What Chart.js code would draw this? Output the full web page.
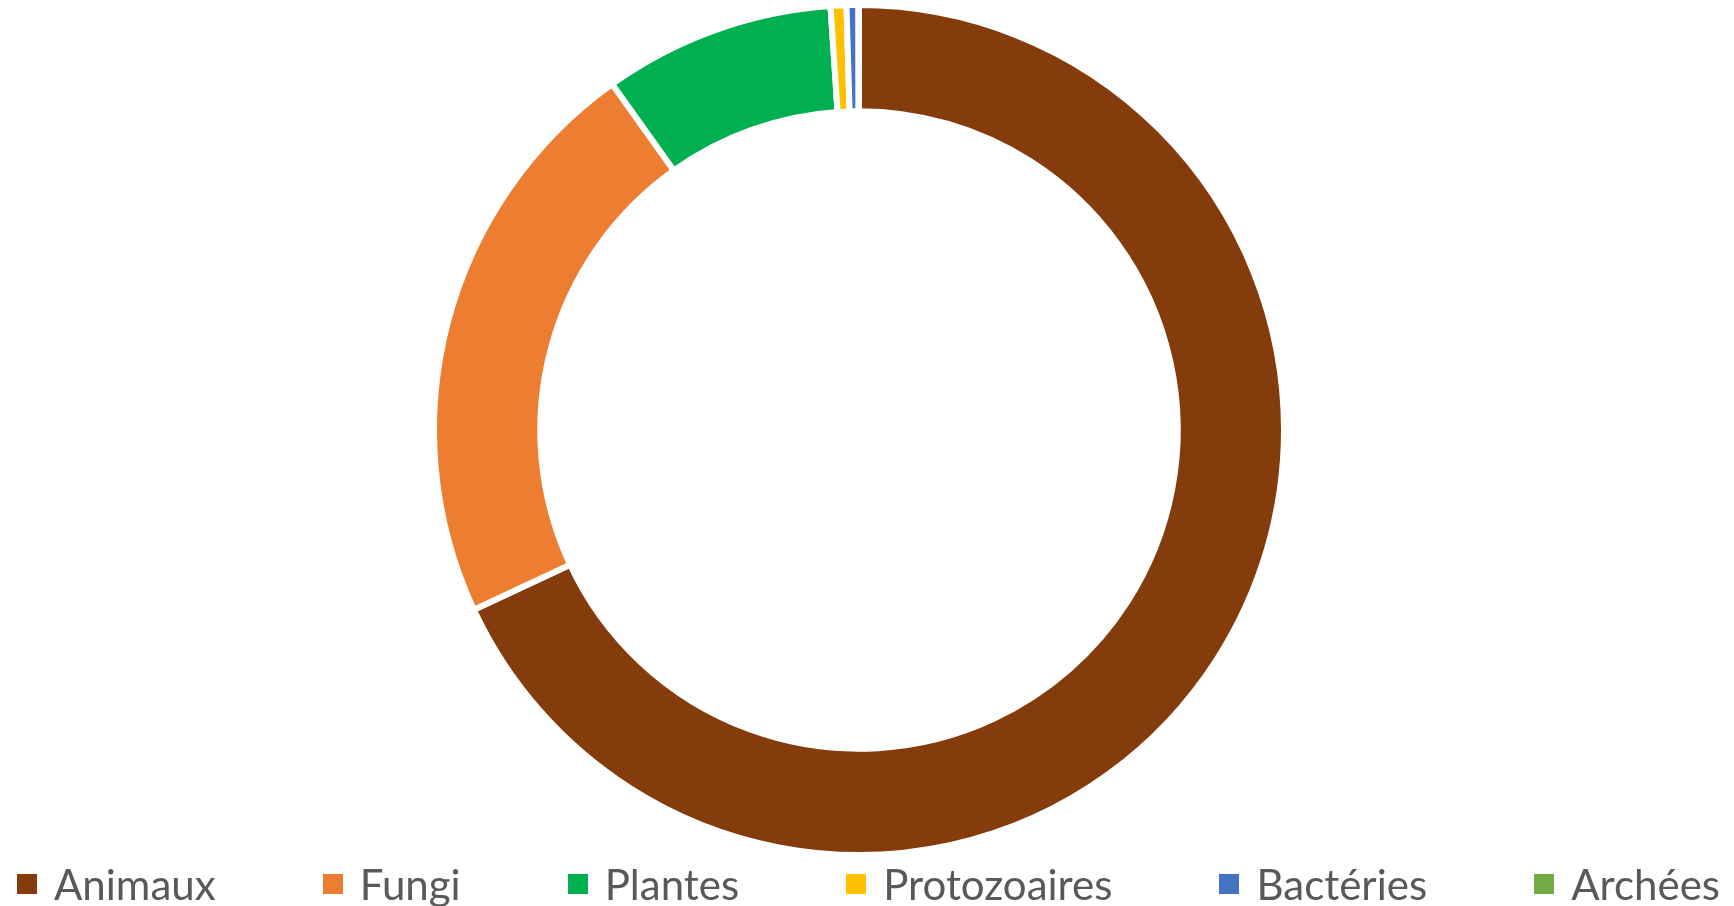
<!DOCTYPE html>
<html>
<head>
<meta charset="utf-8">
<script src="https://cdn.jsdelivr.net/npm/chart.js@4.4.1/dist/chart.umd.min.js"></script>
<style>
  html, body { margin: 0; padding: 0; background: #fff; }
  #wrap { position: relative; width: 1734px; height: 906px; }
  #legend {
    position: absolute; left: 0; top: 862px; width: 1734px; height: 44px;
    box-sizing: border-box; padding: 0 14px 0 17px;
    display: flex; justify-content: space-between; align-items: center;
    font-family: Lato, "Open Sans", sans-serif; font-size: 42px; color: #595959;
  }
  .item { display: flex; align-items: center; white-space: nowrap; }
  .box { width: 20px; height: 20px; margin-right: 17px; }
</style>
</head>
<body>
<div id="wrap">
  <canvas id="donut"></canvas>
  <div id="legend"></div>
</div>
<script>
// share of species per kingdom (%)
var labels = ['Animaux', 'Fungi', 'Plantes', 'Protozoaires', 'Bactéries', 'Archées'];
var values = [68.1, 22.1, 8.8, 0.6, 0.45, 0.02];
var colors = ['#843c0c', '#ed7d31', '#00b050', '#ffc000', '#4472c4', '#70ad47'];

var ctx = document.getElementById('donut').getContext('2d');
var chart = new Chart(ctx, {
  type: 'doughnut',
  data: {
    labels: labels,
    datasets: [{
      data: values,
      backgroundColor: colors,
      borderColor: '#ffffff',
      borderWidth: 6,
    }]
  },
  options: {
    responsive: true,
    maintainAspectRatio: false,
    animation: false,
    cutout: '75%',
    layout: {
      padding: { top: 2, bottom: 48, left: 0, right: 16 }
    },
    plugins: {
      legend: { display: false },
      tooltip: { enabled: false }
    }
  }
});

// html legend, Excel style spacing
chart.data.labels.forEach(function (lab, i) {
  var item = document.createElement('div');
  item.className = 'item';
  item.innerHTML = `<span class="box" style="background:${colors[i]}"></span><span>${lab}</span>`;
  document.getElementById('legend').appendChild(item);
});
</script>
</body>
</html>
